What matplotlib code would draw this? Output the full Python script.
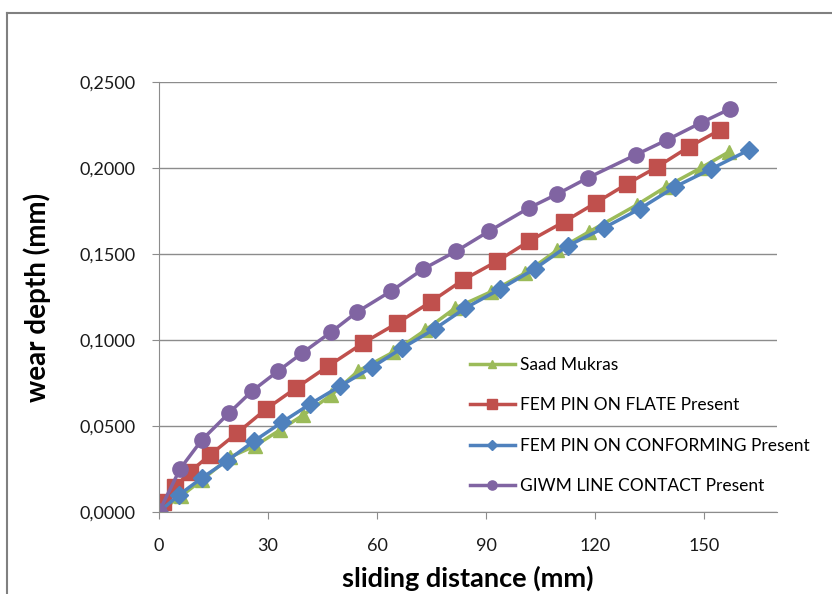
import numpy as np
import matplotlib.pyplot as plt
from matplotlib.ticker import FuncFormatter
from matplotlib.lines import Line2D

plt.rcParams['font.family'] = ['Lato', 'DejaVu Sans']

# Saad Mukras
x_saad = [0, 6.1, 11.8, 19.6, 26.4, 33.3, 39.7, 47.4, 54.8, 64.5, 73.3, 81.5, 91.2,
          100.8, 109.6, 118.2, 131.4, 139.4, 149.0, 156.7]
y_saad = [0, 0.0093, 0.0186, 0.0320, 0.0384, 0.0477, 0.0564, 0.0680, 0.0820, 0.0930,
          0.1058, 0.1186, 0.1279, 0.1390, 0.1523, 0.1628, 0.1785, 0.1890, 0.2000, 0.2093]

# FEM PIN ON FLATE
x_flat = [0, 1.1, 4.4, 8.5, 14.0, 21.5, 29.5, 37.7, 46.6, 56.2, 65.6, 74.7, 83.7,
          93.1, 101.9, 111.3, 120.1, 128.7, 137.0, 145.7, 154.3]
y_flat = [0, 0.0060, 0.0145, 0.0233, 0.0331, 0.0459, 0.0599, 0.0721, 0.0849, 0.0983,
          0.1099, 0.1221, 0.1350, 0.1459, 0.1576, 0.1686, 0.1797, 0.1907, 0.2006,
          0.2122, 0.2221]

# FEM PIN ON CONFORMING
x_conf = [0, 5.5, 11.8, 18.7, 26.2, 33.9, 41.6, 49.9, 58.7, 66.9, 75.8, 84.3, 93.9,
          103.3, 112.4, 122.3, 132.2, 141.9, 151.8, 162.3]
y_conf = [0, 0.0099, 0.0198, 0.0297, 0.0413, 0.0523, 0.0628, 0.0733, 0.0843, 0.0953,
          0.1064, 0.1186, 0.1297, 0.1413, 0.1547, 0.1651, 0.1762, 0.1890, 0.1994, 0.2105]

# GIWM LINE CONTACT
x_giwm = [0, 5.8, 11.8, 19.3, 25.6, 32.8, 39.4, 47.4, 54.5, 63.9, 72.7, 81.8, 90.9,
          101.7, 109.6, 117.9, 131.1, 139.7, 149.0, 157.0]
y_giwm = [0, 0.0250, 0.0419, 0.0576, 0.0703, 0.0820, 0.0924, 0.1047, 0.1163, 0.1285,
          0.1413, 0.1517, 0.1634, 0.1767, 0.1849, 0.1942, 0.2076, 0.2163, 0.2262, 0.2343]

labels = ['Saad Mukras', 'FEM PIN ON FLATE Present',
          'FEM PIN ON CONFORMING Present', 'GIWM LINE CONTACT Present']
colors = ['#9BBB59', '#C0504D', '#4F81BD', '#8064A2']
markers = ['^', 's', 'D', 'o']
msizes = [10, 11, 9, 11]

fig = plt.figure(figsize=(8.32, 5.94), dpi=100)
ax = fig.add_axes([0.191, 0.138, 0.743, 0.724])

series = [(x_saad, y_saad), (x_flat, y_flat), (x_conf, y_conf), (x_giwm, y_giwm)]
for (xs, ys), lab, c, m, ms in zip(series, labels, colors, markers, msizes):
    ax.plot(xs, ys, color=c, lw=2.5, marker=m, ms=ms, mec=c, mfc=c, label=lab)

ax.set_xlim(0, 170)
ax.set_ylim(0, 0.25)
ax.set_xticks([0, 30, 60, 90, 120, 150])
ax.set_yticks(np.arange(0, 0.2501, 0.05))
ax.yaxis.set_major_formatter(FuncFormatter(lambda v, p: ('%.4f' % v).replace('.', ',')))
ax.grid(axis='y', color='#8c8c8c', lw=1)
ax.set_axisbelow(True)
for s in ['top', 'right']:
    ax.spines[s].set_visible(False)
for s in ['left', 'bottom']:
    ax.spines[s].set_color('#8c8c8c')
ax.tick_params(axis='both', colors='#8c8c8c', labelcolor='#1a1a1a', labelsize=13,
               direction='out', length=5)
ax.tick_params(axis='x', pad=14)
ax.tick_params(axis='y', pad=12)

ax.set_xlabel('sliding distance (mm)', fontsize=19.5, fontweight='bold', labelpad=8)
ax.set_ylabel('wear depth (mm)', fontsize=20, fontweight='bold', labelpad=20)

leg = ax.legend(loc='upper left', bbox_to_anchor=(0.546, 0.425), bbox_transform=fig.transFigure,
                frameon=False, fontsize=12.5, handlelength=2.6, handletextpad=0.3,
                labelspacing=1.4, markerscale=0.6)

# outer frame
fig.add_artist(Line2D([7 / 832, 7 / 832], [0, 1 - 13 / 594], color='#808080', lw=1.5,
                      transform=fig.transFigure))
fig.add_artist(Line2D([7 / 832, 1], [1 - 13 / 594, 1 - 13 / 594], color='#808080', lw=1.5,
                      transform=fig.transFigure))

fig.savefig('out.png', dpi=100)
